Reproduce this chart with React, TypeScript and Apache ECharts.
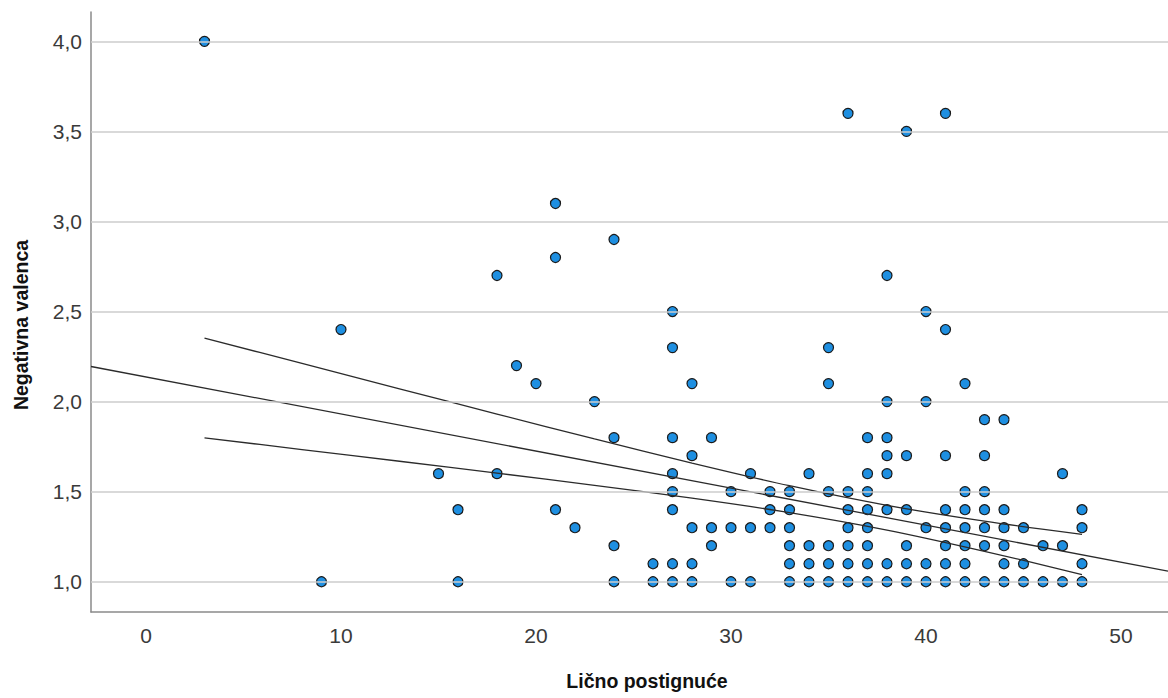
import React, { useEffect, useRef } from "react";
import * as echarts from "echarts";

// Scatter data: one x value per column and the y values found in that column
const xValues = [3, 9, 10, 15, 16, 18, 19, 20, 21, 22, 23, 24, 26, 27, 28, 29, 30, 31, 32, 33, 34, 35, 36, 37, 38, 39, 40, 41, 42, 43, 44, 45, 46, 47, 48];
const yColumns = [
  [4.0],
  [1.0],
  [2.4],
  [1.6],
  [1.4, 1.0],
  [2.7, 1.6],
  [2.2],
  [2.1],
  [3.1, 2.8, 1.4],
  [1.3],
  [2.0],
  [2.9, 1.8, 1.2, 1.0],
  [1.1, 1.0],
  [2.5, 2.3, 1.8, 1.6, 1.5, 1.4, 1.1, 1.0],
  [2.1, 1.7, 1.3, 1.1, 1.0],
  [1.8, 1.3, 1.2],
  [1.5, 1.3, 1.0],
  [1.6, 1.3, 1.0],
  [1.5, 1.4, 1.3],
  [1.5, 1.4, 1.3, 1.2, 1.1, 1.0],
  [1.6, 1.2, 1.1, 1.0],
  [2.3, 2.1, 1.5, 1.2, 1.1, 1.0],
  [3.6, 1.5, 1.4, 1.3, 1.2, 1.1, 1.0],
  [1.8, 1.6, 1.5, 1.4, 1.3, 1.2, 1.1, 1.0],
  [2.7, 2.0, 1.8, 1.7, 1.6, 1.4, 1.1, 1.0],
  [3.5, 1.7, 1.4, 1.2, 1.1, 1.0],
  [2.5, 2.0, 1.3, 1.1, 1.0],
  [3.6, 2.4, 1.7, 1.4, 1.3, 1.2, 1.1, 1.0],
  [2.1, 1.5, 1.4, 1.3, 1.2, 1.1, 1.0],
  [1.9, 1.7, 1.5, 1.4, 1.3, 1.2, 1.0],
  [1.9, 1.4, 1.3, 1.2, 1.1, 1.0],
  [1.3, 1.1, 1.0],
  [1.2, 1.0],
  [1.6, 1.2, 1.0],
  [1.4, 1.3, 1.1, 1.0],
];

// Tick labels
const xTicks = [0, 10, 20, 30, 40, 50];
const yTicks = [1.0, 1.5, 2.0, 2.5, 3.0, 3.5, 4.0];

// Fit line (ends at the plot edges)
const fitX = [-2.82, 52.41];
const fitY = [2.195, 1.059];

// Confidence band of the mean
const ciX = [3, 8, 13, 18, 23, 28, 33, 38, 43, 48];
const ciUpper = [2.352, 2.212, 2.071, 1.931, 1.793, 1.659, 1.533, 1.424, 1.336, 1.263];
const ciLower = [1.799, 1.734, 1.669, 1.603, 1.535, 1.464, 1.384, 1.287, 1.169, 1.040];

const xTitle = "Lično postignuće";
const yTitle = "Negativna valenca";

export default function App() {
  const ref = useRef<HTMLDivElement>(null);

  useEffect(() => {
    if (!ref.current) return;
    const chart = echarts.init(ref.current, null, { renderer: "svg" });

    const points: number[][] = [];
    xValues.forEach((x, i) => {
      yColumns[i].forEach((y) => points.push([x, y]));
    });
    const fitData = fitX.map((x, i) => [x, fitY[i]]);
    const upData = ciX.map((x, i) => [x, ciUpper[i]]);
    const loData = ciX.map((x, i) => [x, ciLower[i]]);

    const lineStyle = { color: "#2b2b2b", width: 1.3 };
    const font = "'Liberation Sans', Arial, sans-serif";

    chart.setOption({
      animation: false,
      backgroundColor: "#ffffff",
      grid: { left: 91, top: 12, right: 0, bottom: 86, containLabel: false },
      xAxis: {
        type: "value",
        min: -2.82,
        max: 52.41,
        axisLine: { show: true, onZero: false, lineStyle: { color: "#8a8a8a", width: 1.5 } },
        axisTick: { show: false },
        splitLine: { show: false },
        axisLabel: {
          customValues: xTicks,
          color: "#3a3a3a",
          fontSize: 21,
          fontFamily: font,
          margin: 13,
          formatter: (v: number) => String(v),
        },
      },
      yAxis: {
        type: "value",
        min: 0.832,
        max: 4.163,
        axisLine: { show: true, onZero: false, lineStyle: { color: "#8a8a8a", width: 1.5 } },
        axisTick: { show: false },
        splitLine: { show: false },
        axisLabel: {
          customValues: yTicks,
          color: "#3a3a3a",
          fontSize: 21,
          fontFamily: font,
          margin: 9,
          formatter: (v: number) => v.toFixed(1).replace(".", ","),
        },
      },
      graphic: [
        {
          type: "text",
          x: 21,
          y: 325,
          rotation: Math.PI / 2,
          style: {
            text: yTitle,
            fill: "#111",
            font: `bold 19.5px ${font}`,
            textAlign: "center",
            textVerticalAlign: "middle",
          },
        },
        {
          type: "text",
          x: 647,
          y: 681,
          style: {
            text: xTitle,
            fill: "#111",
            font: `bold 19.5px ${font}`,
            textAlign: "center",
            textVerticalAlign: "middle",
          },
        },
      ],
      series: [
        {
          type: "line",
          data: [],
          z: 1,
          silent: true,
          markLine: {
            silent: true,
            symbol: ["none", "none"],
            label: { show: false },
            lineStyle: { color: "#cccccc", width: 1.6, type: "solid" },
            data: yTicks.map((v) => ({ yAxis: v })),
          },
        },
        {
          type: "scatter",
          data: points,
          z: 3,
          symbol: "circle",
          symbolSize: 10,
          itemStyle: { color: "#1e8fe1", borderColor: "#1a1a1a", borderWidth: 1.2, opacity: 1 },
        },
        {
          type: "line",
          data: fitData,
          z: 4,
          symbol: "none",
          lineStyle,
        },
        {
          type: "line",
          data: upData,
          z: 4,
          symbol: "none",
          smooth: 0.3,
          lineStyle,
        },
        {
          type: "line",
          data: loData,
          z: 4,
          symbol: "none",
          smooth: 0.3,
          lineStyle,
        },
      ],
    });

    return () => chart.dispose();
  }, []);

  return (
    <div
      ref={ref}
      style={{ position: "fixed", left: 0, top: 0, width: 1168, height: 698, background: "#fff" }}
    />
  );
}
